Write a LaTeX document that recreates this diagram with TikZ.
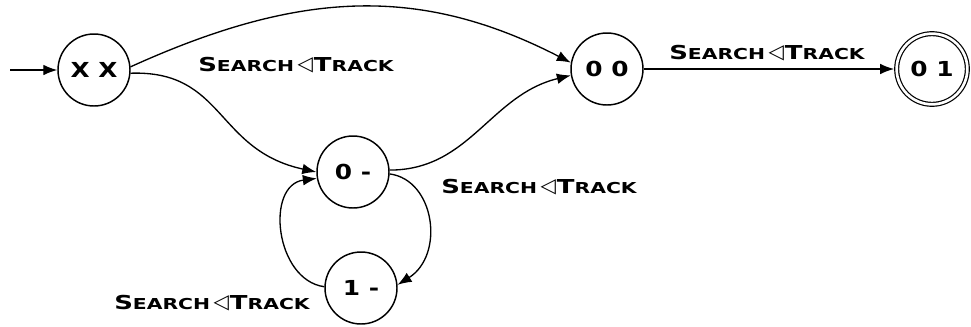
\documentclass[tikz,border=0pt]{standalone}
\usepackage{fontspec}
\usepackage{graphicx}
\setmainfont{DejaVu Sans}
\usetikzlibrary{arrows.meta}

% large and small capitals for the fake small-caps labels
\newcommand\capL[1]{{\fontsize{14.4}{16}\selectfont #1}}
\newcommand\capS[1]{{\fontsize{11.3}{13}\selectfont #1}}
\newcommand\wordS{\scalebox{1.35}[1]{\bfseries\capL{S}\capS{EARCH}}}
\newcommand\wordT{\scalebox{1.35}[1]{\bfseries\capL{T}\capS{RACK}}}
\newcommand\edgelbl{\wordS\hspace{0.25em}\raisebox{0.2pt}{\fontsize{15}{16}\selectfont ◁}\hspace{0.08em}\wordT}
\newcommand\statetxt[1]{\scalebox{1.2}[1]{\bfseries\fontsize{15.5}{17}\selectfont #1}}

\tikzset{
  state/.style={circle, draw, line width=1.1pt, minimum size=54pt, inner sep=0pt},
  accept/.style={state, double, double distance=2pt, line width=0.9pt, minimum size=53pt},
  trans/.style={line width=1pt, -{Latex[length=10.5pt,width=8pt]}},
  lbl/.style={inner sep=0pt}
}

\begin{document}
\begin{tikzpicture}[x=0.75pt,y=-0.75pt]
\path[use as bounding box] (0,0) rectangle (971,326);

% states
\node[state]  (xx) at (94,70)   {\statetxt{X X}};
\node[state]  (oo) at (607,69)  {\statetxt{0 0}};
\node[accept] (ol) at (932,69)  {\statetxt{0 1}};
\node[state]  (zm) at (353,172) {\statetxt{0 -}};
\node[state]  (om) at (361,288) {\statetxt{1 -}};

% initial arrow
\coordinate (init) at (10,70);
\draw[trans] (init) -- (xx.west);

% transitions
\draw[trans] (xx.5) .. controls (300,-10) and (420,-15) .. (oo.170);
\draw[trans] (xx.-5) .. controls (225,70) and (215,150) .. (zm.180);
\draw[trans] (zm.3) .. controls (470,170) and (490,95) .. (oo.190);
\draw[trans] (oo.east) -- ([xshift=-1.5pt]ol.west);
\draw[trans] (zm.-3) .. controls (435,180) and (445,255) .. (om.5);
\draw[trans] (om.178) .. controls (275,280) and (265,185) .. (zm.190);

% labels
\node[lbl] (l1) at (296,65)  {\edgelbl};
\node[lbl] (l2) at (767,53)  {\edgelbl};
\node[lbl] (l3) at (539,187) {\edgelbl};
\node[lbl] (l4) at (212,303) {\edgelbl};
\end{tikzpicture}
\end{document}
